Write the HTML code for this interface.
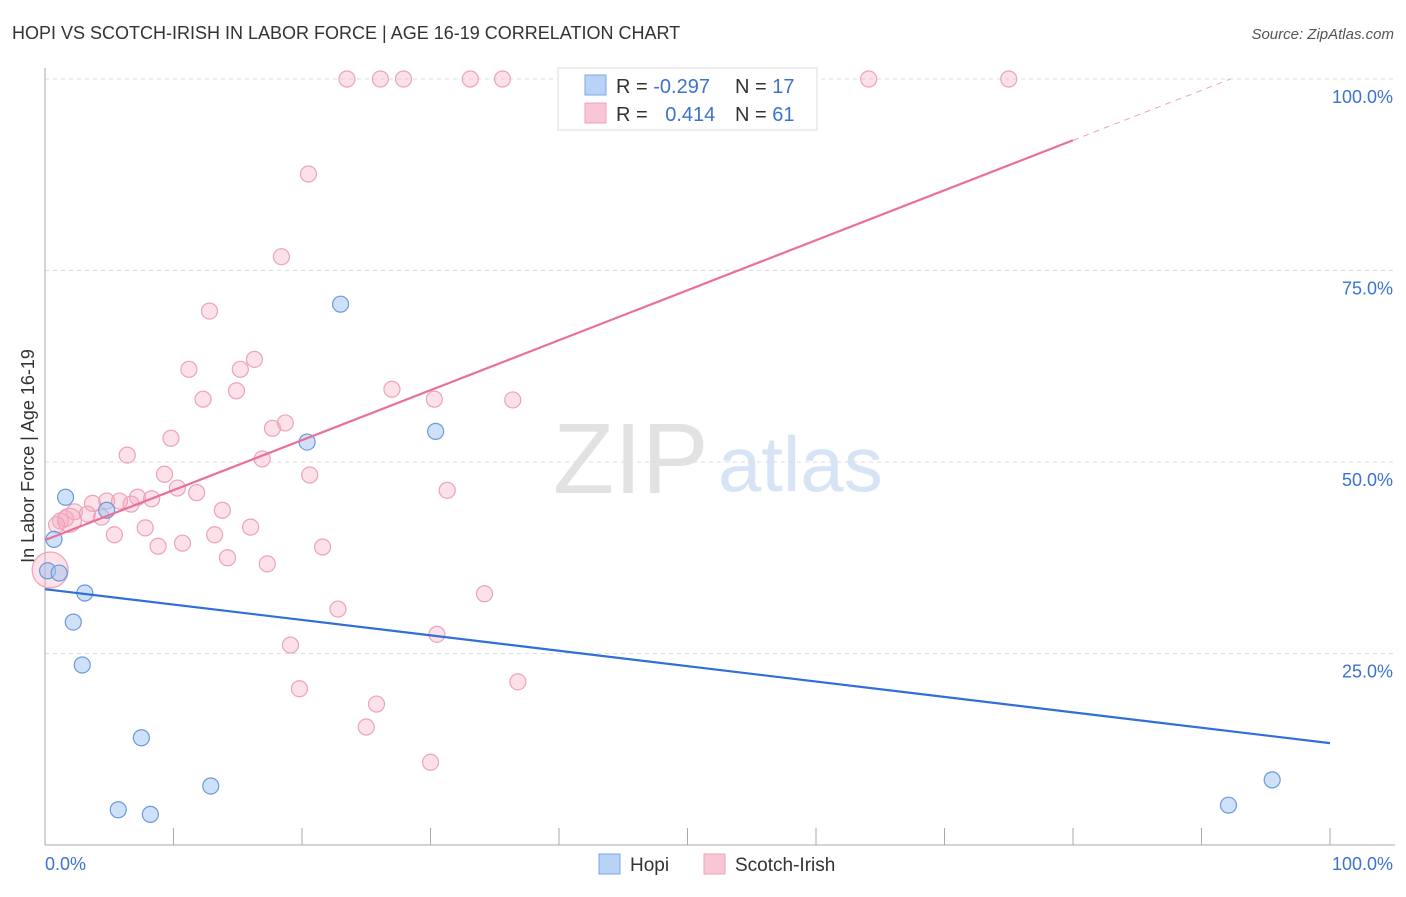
<!DOCTYPE html>
<html><head><meta charset="utf-8"><style>
body{margin:0;background:#fff;font-family:"Liberation Sans",sans-serif}
svg text{font-family:"Liberation Sans",sans-serif}
</style></head><body>
<svg id="chart" width="1406" height="892">
<text x="12" y="39" font-size="18" fill="#333">HOPI VS SCOTCH-IRISH IN LABOR FORCE | AGE 16-19 CORRELATION CHART</text>
<text x="1394" y="39" font-size="15" fill="#555" font-style="italic" text-anchor="end">Source: ZipAtlas.com</text>
<text x="553" y="493" font-size="100" fill="#e2e2e2" font-family="Liberation Serif">ZIP</text>
<text x="718" y="491" font-size="78" fill="#d6e4f5">atlas</text>
<g id="grid"></g>
<g id="axes"></g>
<g id="marks"></g>
<text x="34" y="456" font-size="18" fill="#333" transform="rotate(-90 34 456)" text-anchor="middle">In Labor Force | Age 16-19</text>
<g>
<rect x="558" y="68" width="259" height="62" fill="#fff" stroke="#ddd"/>
<rect x="585" y="75" width="21" height="20" fill="#b8d3f5" stroke="#7aa8e6"/>
<rect x="585" y="103" width="21" height="20" fill="#f9c6d5" stroke="#eea2ba"/>
<text x="616" y="93" font-size="20" fill="#333">R = <tspan fill="#3a73d0">-0.297</tspan></text>
<text x="735" y="93" font-size="20" fill="#333">N = <tspan fill="#3a73d0">17</tspan></text>
<text x="616" y="121" font-size="20" fill="#333">R = <tspan fill="#3a73d0" dx="12">0.414</tspan></text>
<text x="735" y="121" font-size="20" fill="#333">N = <tspan fill="#3a73d0">61</tspan></text>
</g>
<g>
<rect x="599" y="854" width="21" height="20" fill="#b8d3f5" stroke="#7aa8e6"/>
<text x="630" y="871" font-size="19" fill="#333">Hopi</text>
<rect x="704" y="854" width="21" height="20" fill="#f9c6d5" stroke="#eea2ba"/>
<text x="735" y="871" font-size="19" fill="#333">Scotch-Irish</text>
</g>
</svg>
<script>
const yTicks=[25,50,75,100];
const yTickLabels=["25.0%","50.0%","75.0%","100.0%"];
const xTickLabels=["0.0%","100.0%"];
const hopiX=[1.6,0.7,0.2,1.1,3.1,2.2,2.9,7.5,5.7,8.2,12.9,4.8,23.0,20.4,30.4,92.1,95.5];
const hopiY=[45.4,39.9,35.8,35.5,32.9,29.1,23.5,14.0,4.6,4.0,7.7,43.7,70.6,52.6,54.0,5.2,8.5];
const scotX=[23.5,26.1,27.9,33.1,35.6,64.1,75.0,20.5,18.4,12.8,16.3,11.2,15.2,14.9,12.3,27.0,30.3,36.4,9.8,18.7,17.7,6.4,16.9,9.3,20.6,10.3,11.8,31.3,3.7,4.8,5.8,7.2,8.3,6.7,13.8,2.3,3.3,4.4,1.6,1.2,16.0,7.8,5.4,13.2,10.7,8.8,21.6,14.2,17.3,34.2,22.8,30.5,19.1,19.8,36.8,25.8,25.0,30.0,0.4,1.9,0.9];
const scotY=[100,100,100,100,100,100,100,87.6,76.8,69.7,63.4,62.1,62.1,59.3,58.2,59.5,58.2,58.1,53.1,55.1,54.4,50.9,50.4,48.4,48.3,46.6,46.0,46.3,44.6,44.9,44.9,45.4,45.2,44.5,43.7,43.5,43.2,42.8,42.6,42.3,41.5,41.4,40.5,40.5,39.4,39.0,38.9,37.5,36.7,32.8,30.8,27.5,26.1,20.4,21.3,18.4,15.4,10.8,35.9,42.4,41.8];
const scotR=[];for(let i=0;i<scotX.length;i++)scotR.push(8);scotR[58]=18;scotR[59]=12;
const hopiTrend=[33.4,13.3];
const scotTrend=[39.8,0.6525];
const NS="http://www.w3.org/2000/svg";
const X=v=>45+v*12.85, Y=v=>845-v*7.66;
function mk(t,a,p){const e=document.createElementNS(NS,t);for(const k in a)e.setAttribute(k,a[k]);p.appendChild(e);return e;}
const grid=document.getElementById('grid'),axes=document.getElementById('axes'),marks=document.getElementById('marks');
yTicks.forEach((v,i)=>{
 const l=mk('line',{x1:45,x2:1395,y1:Y(v),y2:Y(v),stroke:'#ddd','stroke-dasharray':'4,4'},grid);
 
 
 const t=mk('text',{x:1393,y:Y(v)+24,'font-size':18,fill:'#3a73d0','text-anchor':'end'},grid);t.textContent=yTickLabels[i];
 
 
});
let a=mk('line',{x1:45,x2:45,y1:68,y2:845,stroke:'#aaa'},axes);


a=mk('line',{x1:45,x2:1395,y1:845,y2:845,stroke:'#aaa'},axes);


for(let i=1;i<=10;i++){const tk=mk('line',{x1:X(i*10),x2:X(i*10),y1:828,y2:845,stroke:'#aaa'},axes);
 
 }
let t=mk('text',{x:45,y:870,'font-size':18,fill:'#3a73d0'},axes);t.textContent=xTickLabels[0];


t=mk('text',{x:1393,y:870,'font-size':18,fill:'#3a73d0','text-anchor':'end'},axes);t.textContent=xTickLabels[1];


scotX.forEach((x,i)=>{const c=mk('circle',{cx:X(x),cy:Y(scotY[i]),r:scotR[i],fill:'rgba(246,170,193,0.35)',stroke:'#eba3ba','stroke-width':1.2},marks);
 
 });
hopiX.forEach((x,i)=>{const c=mk('circle',{cx:X(x),cy:Y(hopiY[i]),r:8,fill:'rgba(160,195,240,0.5)',stroke:'#6a9ade','stroke-width':1.2},marks);
 
 });
let ln=mk('line',{x1:X(0),y1:Y(hopiTrend[0]),x2:X(100),y2:Y(hopiTrend[1]),stroke:'#2f6fd6','stroke-width':2.2},marks);


const xEnd=(100-scotTrend[0])/scotTrend[1];
ln=mk('line',{x1:X(0),y1:Y(scotTrend[0]),x2:X(80),y2:Y(scotTrend[0]+80*scotTrend[1]),stroke:'#e8709a','stroke-width':2.2},marks);


ln=mk('line',{x1:X(80),y1:Y(scotTrend[0]+80*scotTrend[1]),x2:X(xEnd),y2:Y(100),stroke:'#eea2ba','stroke-width':1,'stroke-dasharray':'6,5'},marks);


</script>
</body></html>
